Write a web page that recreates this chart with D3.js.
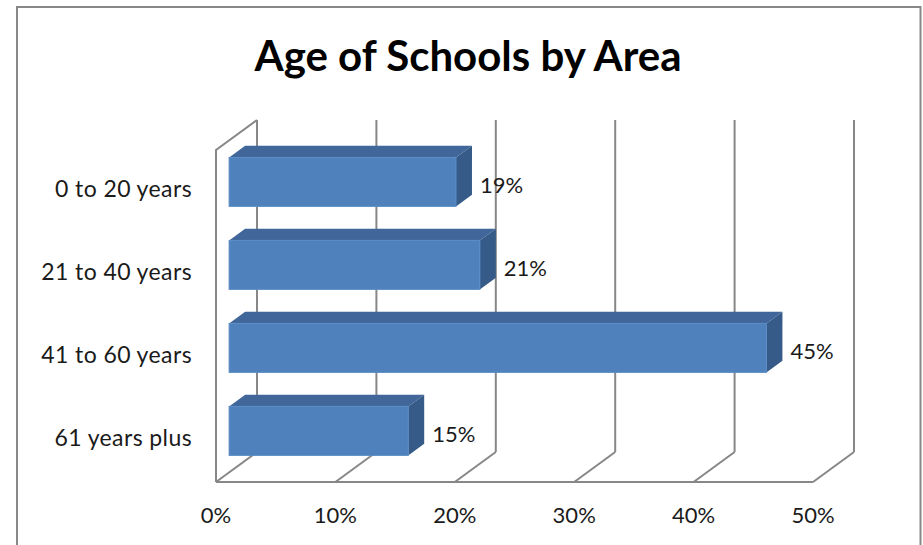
<!DOCTYPE html>
<html><head><meta charset="utf-8">
<script src="https://cdn.jsdelivr.net/npm/d3@7"></script>
<style>body{margin:0;background:#fff}svg{display:block}</style>
</head><body>
<script>
const categories = ["0 to 20 years", "21 to 40 years", "41 to 60 years", "61 years plus"];
const values = [19, 21, 45, 15];
const ticks = [0, 10, 20, 30, 40, 50];
const title = "Age of Schools by Area";

(function () {
const W = 923, H = 545;
const svg = d3.select("body").append("svg").attr("width", W).attr("height", H);
const font = "Lato, 'Open Sans', sans-serif";

svg.append("rect").attr("x", 17).attr("y", 7).attr("width", 903.5).attr("height", 620)
  .attr("fill", "#fff").attr("stroke", "#888").attr("stroke-width", 2);

svg.append("text").attr("x", 468).attr("y", 71).attr("text-anchor", "middle")
  .attr("font-family", font).attr("font-weight", "bold").attr("font-size", 42)
  .attr("fill", "#000").text(title);

const x = d3.scaleLinear().domain([0, 50]).range([216, 813]);
const y = d3.scaleBand().domain(categories).range([150, 482]).paddingInner(0.41).paddingOuter(0.205);
const D = {dx: 41, dy: -30};
const f1 = 0.32, f2 = 0.71;
const yTop = 150, yBot = 482;
const grid = "#878787";

const g = svg.append("g").attr("fill", "none").attr("stroke", grid).attr("stroke-width", 2);
ticks.forEach(t => {
  g.append("line").attr("x1", x(t) + D.dx).attr("x2", x(t) + D.dx)
    .attr("y1", yTop + D.dy).attr("y2", yBot + D.dy);
  g.append("line").attr("x1", x(t)).attr("y1", yBot).attr("x2", x(t) + D.dx).attr("y2", yBot + D.dy);
});
g.append("polyline").attr("points", [[x(0), yBot], [x(0), yTop], [x(0) + D.dx, yTop + D.dy]].join(" "));
g.append("line").attr("x1", x(0)).attr("x2", x(50)).attr("y1", yBot).attr("y2", yBot);

const bars = svg.append("g");
categories.forEach((c, i) => {
  const v = values[i];
  const ox = D.dx * f1, oy = D.dy * f1;
  const ddx = D.dx * (f2 - f1), ddy = D.dy * (f2 - f1);
  const x0 = x(0) + ox, x1 = x(v) + ox;
  const y0 = y(c) + oy, y1 = y0 + y.bandwidth();
  bars.append("polygon").attr("points", [[x0, y0], [x0 + ddx, y0 + ddy], [x1 + ddx, y0 + ddy], [x1, y0]].join(" "))
    .attr("fill", "#41679a");
  bars.append("polygon").attr("points", [[x1, y0], [x1 + ddx, y0 + ddy], [x1 + ddx, y1 + ddy], [x1, y1]].join(" "))
    .attr("fill", "#365b88");
  bars.append("rect").attr("x", x0).attr("y", y0).attr("width", x1 - x0).attr("height", y1 - y0)
    .attr("fill", "#4f81bd").attr("stroke", "#5b8cc6").attr("stroke-width", 1);
  svg.append("text").attr("x", x1 + ddx + 8).attr("y", y0 + y.bandwidth() / 2 + 6)
    .attr("dominant-baseline", "middle").attr("font-family", font).attr("font-size", 22)
    .attr("fill", "#1a1a1a").text(v + "%");
});

categories.forEach(c => {
  svg.append("text").attr("x", 192).attr("y", y(c) + y.bandwidth() / 2)
    .attr("text-anchor", "end").attr("dominant-baseline", "middle")
    .attr("font-family", font).attr("font-size", 23).attr("letter-spacing", 0.4)
    .attr("fill", "#1a1a1a").text(c);
});

ticks.forEach(t => {
  svg.append("text").attr("x", x(t)).attr("y", 517).attr("text-anchor", "middle")
    .attr("dominant-baseline", "middle").attr("font-family", font).attr("font-size", 22)
    .attr("fill", "#1a1a1a").text(t + "%");
});
})();
</script>
</body></html>
